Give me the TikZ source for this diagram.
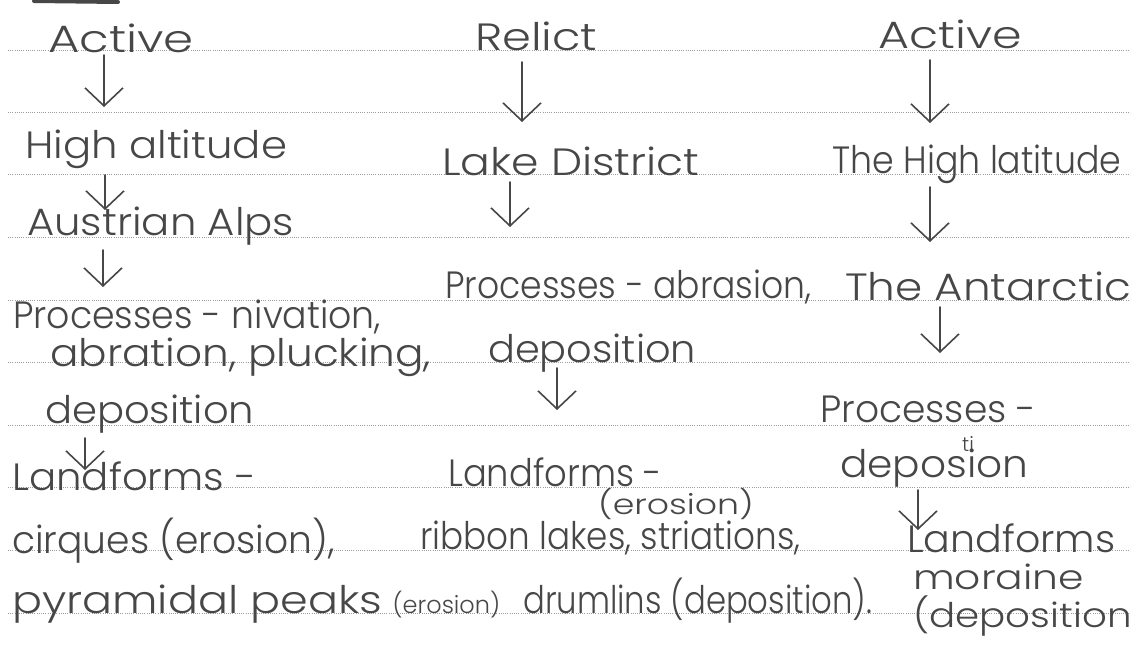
\documentclass[tikz,border=0pt]{standalone}
\usepackage{fontspec}
\setmainfont{Poppins}[UprightFont={* Light}]
\usepackage{graphicx}
\usepackage{tikz}
\usetikzlibrary{arrows.meta, positioning}
\definecolor{ink}{gray}{0.28}
\definecolor{rule}{gray}{0.62}
\newcommand{\hand}{\fontsize{38}{40}\selectfont}
\newcommand{\handlg}{\fontsize{34}{36}\selectfont}
\newcommand{\handmd}{\fontsize{28}{30}\selectfont}
\newcommand{\handsm}{\fontsize{24}{26}\selectfont}
\newcommand{\handxs}{\fontsize{20}{22}\selectfont}
\newcommand{\sx}[2]{\scalebox{#1}[1]{#2}}

\begin{document}
\begin{tikzpicture}[x=1pt, y=-1pt,
  note/.style  = {anchor=base west, inner sep=0pt, text=ink, font=\hand},
  small/.style = {note, font=\handsm},
  arr/.style   = {->, draw=ink, line width=1.6pt, line cap=round},
  >={Straight Barb[length=18pt, width=38pt, line width=1.6pt]}]

\useasboundingbox (0,0) rectangle (1140,645);
\fill[white] (0,0) rectangle (1140,645);

% dotted rules of the paper
\foreach \y in {50,112,174,237,300,362,425,487,550,613}
  \draw[rule, line width=0.9pt, dash pattern=on 0.9pt off 1.3pt] (8,\y) -- (1130,\y);
\draw[ink, line width=4pt, line cap=round] (34,1) -- (118,2);

% first column
\node[note] (c11) at (48,52)  {\sx{1.27}{Active}};
\node[note] (c12) at (25,158) {\sx{1.10}{High altitude}};
\node[note] (c13) at (27,235) {\sx{1.10}{Austrian Alps}};
\node[note] (c14) at (13,328) {\sx{0.955}{Processes - nivation,}};
\node[note] (c15) at (50,366) {\sx{1.11}{abration, plucking,}};
\node[note] (c16) at (45,423) {\sx{1.055}{deposition}};
\node[note] (c17) at (12,490) {\sx{1.06}{Landforms -}};
\node[note] (c18) at (12,553) {\sx{0.99}{cirques (erosion),}};
\node[note] (c19) at (12,613) {\sx{1.17}{pyramidal peaks} {\handsm(erosion)}};

% second column
\node[note] (c21) at (475,50)  {\sx{1.22}{Relict}};
\node[note] (c22) at (442,175) {\sx{1.16}{Lake District}};
\node[note] (c23) at (445,298) {\sx{0.91}{Processes - abrasion,}};
\node[note] (c24) at (488,362) {\sx{1.05}{deposition}};
\node[note] (c25) at (448,486) {\sx{0.93}{Landforms -}};
\node[note, font=\handmd] (c26) at (598,514) {\sx{1.24}{(erosion)}};
\node[note] (c27) at (420,549) {\sx{0.9}{ribbon lakes, striations,}};
\node[note] (c28) at (523,613) {\sx{0.85}{drumlins (deposition).}};

% third column
\node[note] (c31) at (878,48)  {\sx{1.25}{Active}};
\node[note] (c32) at (832,173) {\sx{0.915}{The High latitude}};
\node[note] (c33) at (845,300) {\sx{1.15}{The Antarctic}};
\node[note] (c34) at (820,422) {\sx{0.99}{Processes -}};
\node[note] (c35) at (840,477) {\sx{1.07}{deposion}};
\node[note, font=\handxs] (c36) at (962,451) {ti};
\node[note] (c37) at (907,552) {\sx{1.04}{Landforms}};
\node[note, font=\handlg] (c38) at (913,589) {\sx{1.2}{moraine}};
\node[note, font=\handlg] (c39) at (913,627) {\sx{1.14}{(deposition}};

%--------------------------------------- arrows between the notes ---------------------------------------
\draw[arr] ([xshift=56pt, yshift=-3pt]c11.base west)  -- ([xshift=79pt, yshift=51pt]c12.base west);
\draw[arr] ([xshift=80pt, yshift=-17pt]c12.base west) -- ([xshift=78pt, yshift=25pt]c13.base west);
\draw[arr] ([xshift=76pt, yshift=-15pt]c13.base west) -- ([xshift=90pt, yshift=41pt]c14.base west);
\draw[arr] ([xshift=40pt, yshift=-15pt]c16.base west) -- ([xshift=73pt, yshift=20pt]c17.base west);

\draw[arr] ([xshift=47pt, yshift=-12pt]c21.base west) -- ([xshift=80pt, yshift=53pt]c22.base west);
\draw[arr] ([xshift=68pt, yshift=-7pt]c22.base west)  -- ([xshift=65pt, yshift=71pt]c23.base west);
\draw[arr] ([xshift=69pt, yshift=-6pt]c24.base west)  -- ([xshift=109pt, yshift=76pt]c25.base west);

\draw[arr] ([xshift=52pt, yshift=-12pt]c31.base west) -- ([xshift=98pt, yshift=50pt]c32.base west);
\draw[arr] ([xshift=98pt, yshift=-14pt]c32.base west) -- ([xshift=85pt, yshift=58pt]c33.base west);
\draw[arr] ([xshift=95pt, yshift=-7pt]c33.base west)  -- ([xshift=120pt, yshift=69pt]c34.base west);
\draw[arr] ([xshift=78pt, yshift=-13pt]c35.base west) -- ([xshift=11pt, yshift=22pt]c37.base west);

\end{tikzpicture}
\end{document}
